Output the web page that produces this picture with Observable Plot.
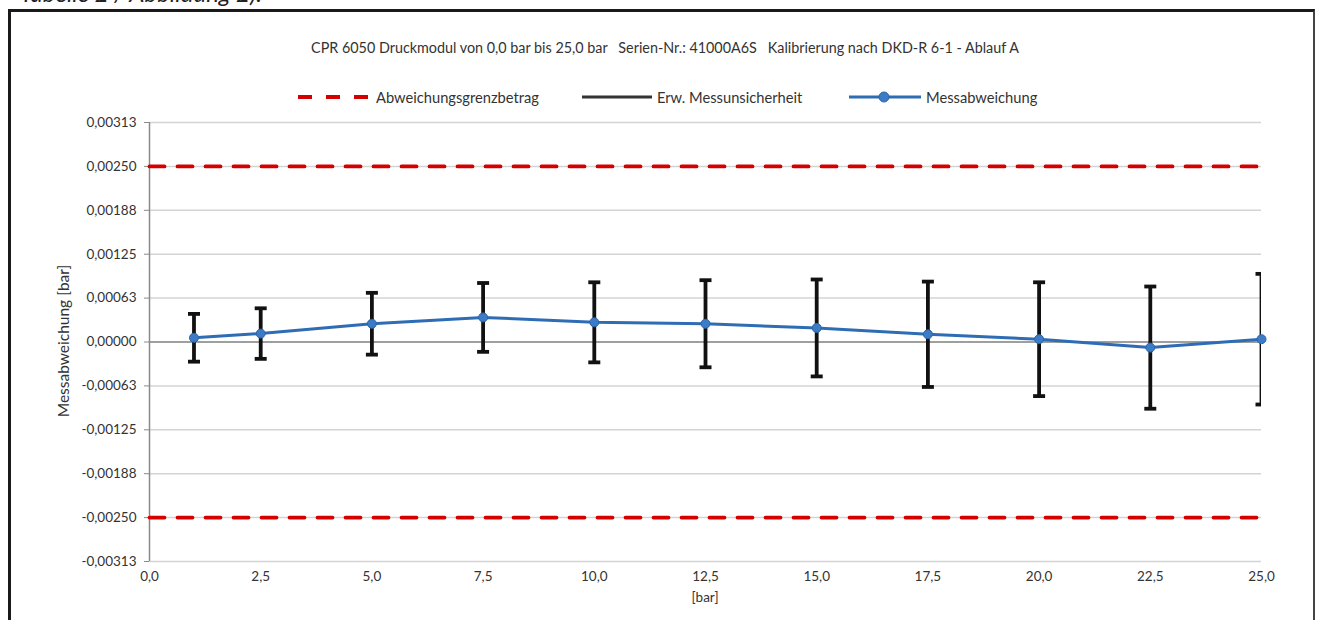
<!DOCTYPE html>
<html>
<head>
<meta charset="utf-8">
<script src="https://cdn.jsdelivr.net/npm/d3@7"></script>
<script src="https://cdn.jsdelivr.net/npm/@observablehq/plot@0.6"></script>
<style>
  html, body { margin: 0; padding: 0; background: #fff; }
  #wrap { position: relative; width: 1317px; height: 620px; overflow: hidden; font-family: Lato, "Liberation Sans", sans-serif; color: #333; }
  #frame { position: absolute; left: 8px; top: 9px; width: 1302px; height: 620px; border-left: 3px solid #1a1a1a; border-top: 3px solid #1a1a1a; border-right: 2px solid #444; }
  #cut { position: absolute; left: 20px; top: -22px; font-size: 24px; font-style: italic; color: #222; white-space: nowrap; }
  #title { position: absolute; left: 0; width: 1330px; top: 39px; text-align: center; font-size: 14.35px; white-space: pre; }
  .leg { position: absolute; top: 88px; font-size: 14.7px; white-space: nowrap; display: flex; align-items: center; }
  .leg svg { margin-right: 5px; }
  #ylab { position: absolute; left: 63px; top: 341px; transform: translate(-50%, -50%) rotate(-90deg); font-size: 15.5px; white-space: nowrap; }
  #xlab { position: absolute; left: 705px; top: 589px; transform: translateX(-50%); font-size: 13.5px; }
  #chart { position: absolute; left: 0; top: 0; }
</style>
</head>
<body>
<div id="wrap">
  <div id="cut">Tabelle 2 / Abbildung 2).</div>
  <div id="frame"></div>
  <div id="chart"></div>
  <div id="title"></div>
  <div class="leg" style="left:298px">
    <svg width="73" height="12"><line x1="0" y1="6" x2="73" y2="6" stroke="#d40000" stroke-width="4" stroke-dasharray="14,14"/></svg><span id="l1"></span>
  </div>
  <div class="leg" style="left:582px">
    <svg width="70" height="12"><line x1="0" y1="6" x2="70" y2="6" stroke="#333" stroke-width="3"/></svg><span id="l2"></span>
  </div>
  <div class="leg" style="left:849px">
    <svg width="72" height="12"><line x1="0" y1="6" x2="72" y2="6" stroke="#2e6db4" stroke-width="3"/><circle cx="35" cy="6" r="5" fill="#3c7cc6" stroke="#2d64a8"/></svg><span id="l3"></span>
  </div>
  <div id="ylab"></div>
  <div id="xlab"></div>
</div>
<script>
// ---- data ----
const titleText = "CPR 6050 Druckmodul von 0,0 bar bis 25,0 bar   Serien-Nr.: 41000A6S   Kalibrierung nach DKD-R 6-1 - Ablauf A";
const seriesNames = ["Abweichungsgrenzbetrag", "Erw. Messunsicherheit", "Messabweichung"];
const xAxisLabel = "[bar]";
const yAxisLabel = "Messabweichung [bar]";

const pressure = [1.0, 2.5, 5.0, 7.5, 10.0, 12.5, 15.0, 17.5, 20.0, 22.5, 25.0];
const deviation = [0.00006, 0.00012, 0.00026, 0.00035, 0.00028, 0.00026, 0.00020, 0.00011, 0.00004, -0.00008, 0.00004];
const uncertainty = [0.00034, 0.00036, 0.00044, 0.00049, 0.00057, 0.00062, 0.00069, 0.00075, 0.00081, 0.00087, 0.00093];

const limitX = [0, 25];
const limitUpper = [0.0025, 0.0025];
const limitLower = [-0.0025, -0.0025];

const yTicks = [-0.003125, -0.0025, -0.001875, -0.00125, -0.000625, 0, 0.000625, 0.00125, 0.001875, 0.0025, 0.003125];
const yTickLabels = ["-0,00313", "-0,00250", "-0,00188", "-0,00125", "-0,00063", "0,00000", "0,00063", "0,00125", "0,00188", "0,00250", "0,00313"];
const xTicks = [0, 2.5, 5, 7.5, 10, 12.5, 15, 17.5, 20, 22.5, 25];
const xTickLabels = ["0,0", "2,5", "5,0", "7,5", "10,0", "12,5", "15,0", "17,5", "20,0", "22,5", "25,0"];

// ---- build ----
document.getElementById("title").textContent = titleText;
document.getElementById("l1").textContent = seriesNames[0];
document.getElementById("l2").textContent = seriesNames[1];
document.getElementById("l3").textContent = seriesNames[2];
document.getElementById("xlab").textContent = xAxisLabel;
document.getElementById("ylab").textContent = yAxisLabel;

const data = pressure.map((p, i) => ({x: p, y: deviation[i], u: uncertainty[i]}));
const caps = data.flatMap(d => [{x: d.x, y: d.y + d.u}, {x: d.x, y: d.y - d.u}]);
const limits = limitX.flatMap((x, i) => [{x, y: limitUpper[i], s: "u"}, {x, y: limitLower[i], s: "l"}]);
const yLab = new Map(yTicks.map((t, i) => [t, yTickLabels[i]]));
const xLab = new Map(xTicks.map((t, i) => [t, xTickLabels[i]]));

const capSymbol = {
  draw(ctx, size) {
    const r = Math.sqrt(size / Math.PI);
    ctx.moveTo(-r, 0);
    ctx.lineTo(r, 0);
  }
};

const chart = Plot.plot({
  width: 1317,
  height: 620,
  marginLeft: 149,
  marginRight: 56,
  marginTop: 122,
  marginBottom: 59,
  style: {fontFamily: "Lato, 'Liberation Sans', sans-serif", fontSize: "13.5px", color: "#333", background: "transparent", overflow: "visible"},
  x: {domain: [0, 25]},
  y: {domain: [-0.003125, 0.003125]},
  marks: [
    Plot.gridY(yTicks, {stroke: "#d4d4d4", strokeOpacity: 1, strokeWidth: 1.5}),
    Plot.ruleY([0], {stroke: "#8a8a8a", strokeWidth: 1.5}),
    Plot.ruleX([0], {stroke: "#8a8a8a", strokeWidth: 1.5}),
    Plot.axisY(yTicks, {tickSize: 5, tickPadding: 8, stroke: "#8a8a8a", tickFormat: d => yLab.get(d), label: null}),
    Plot.axisX(xTicks, {tickSize: 0, tickPadding: 10, tickFormat: d => xLab.get(d), label: null}),
    Plot.line(limits, {x: "x", y: "y", z: "s", stroke: "#d40000", strokeWidth: 3.8, strokeDasharray: "15,13"}),
    Plot.ruleX(data, {x: "x", y1: d => d.y - d.u, y2: d => d.y + d.u, stroke: "#111", strokeWidth: 3.8, clip: true}),
    Plot.dot(caps, {x: "x", y: "y", r: 6, symbol: capSymbol, fill: "none", stroke: "#111", strokeWidth: 3.8, clip: true}),
    Plot.line(data, {x: "x", y: "y", stroke: "#2e6db4", strokeWidth: 3}),
    Plot.dot(data, {x: "x", y: "y", r: 4.5, fill: "#3c7cc6", stroke: "#2d64a8", strokeWidth: 1})
  ]
});
document.getElementById("chart").appendChild(chart);
</script>
</body>
</html>
